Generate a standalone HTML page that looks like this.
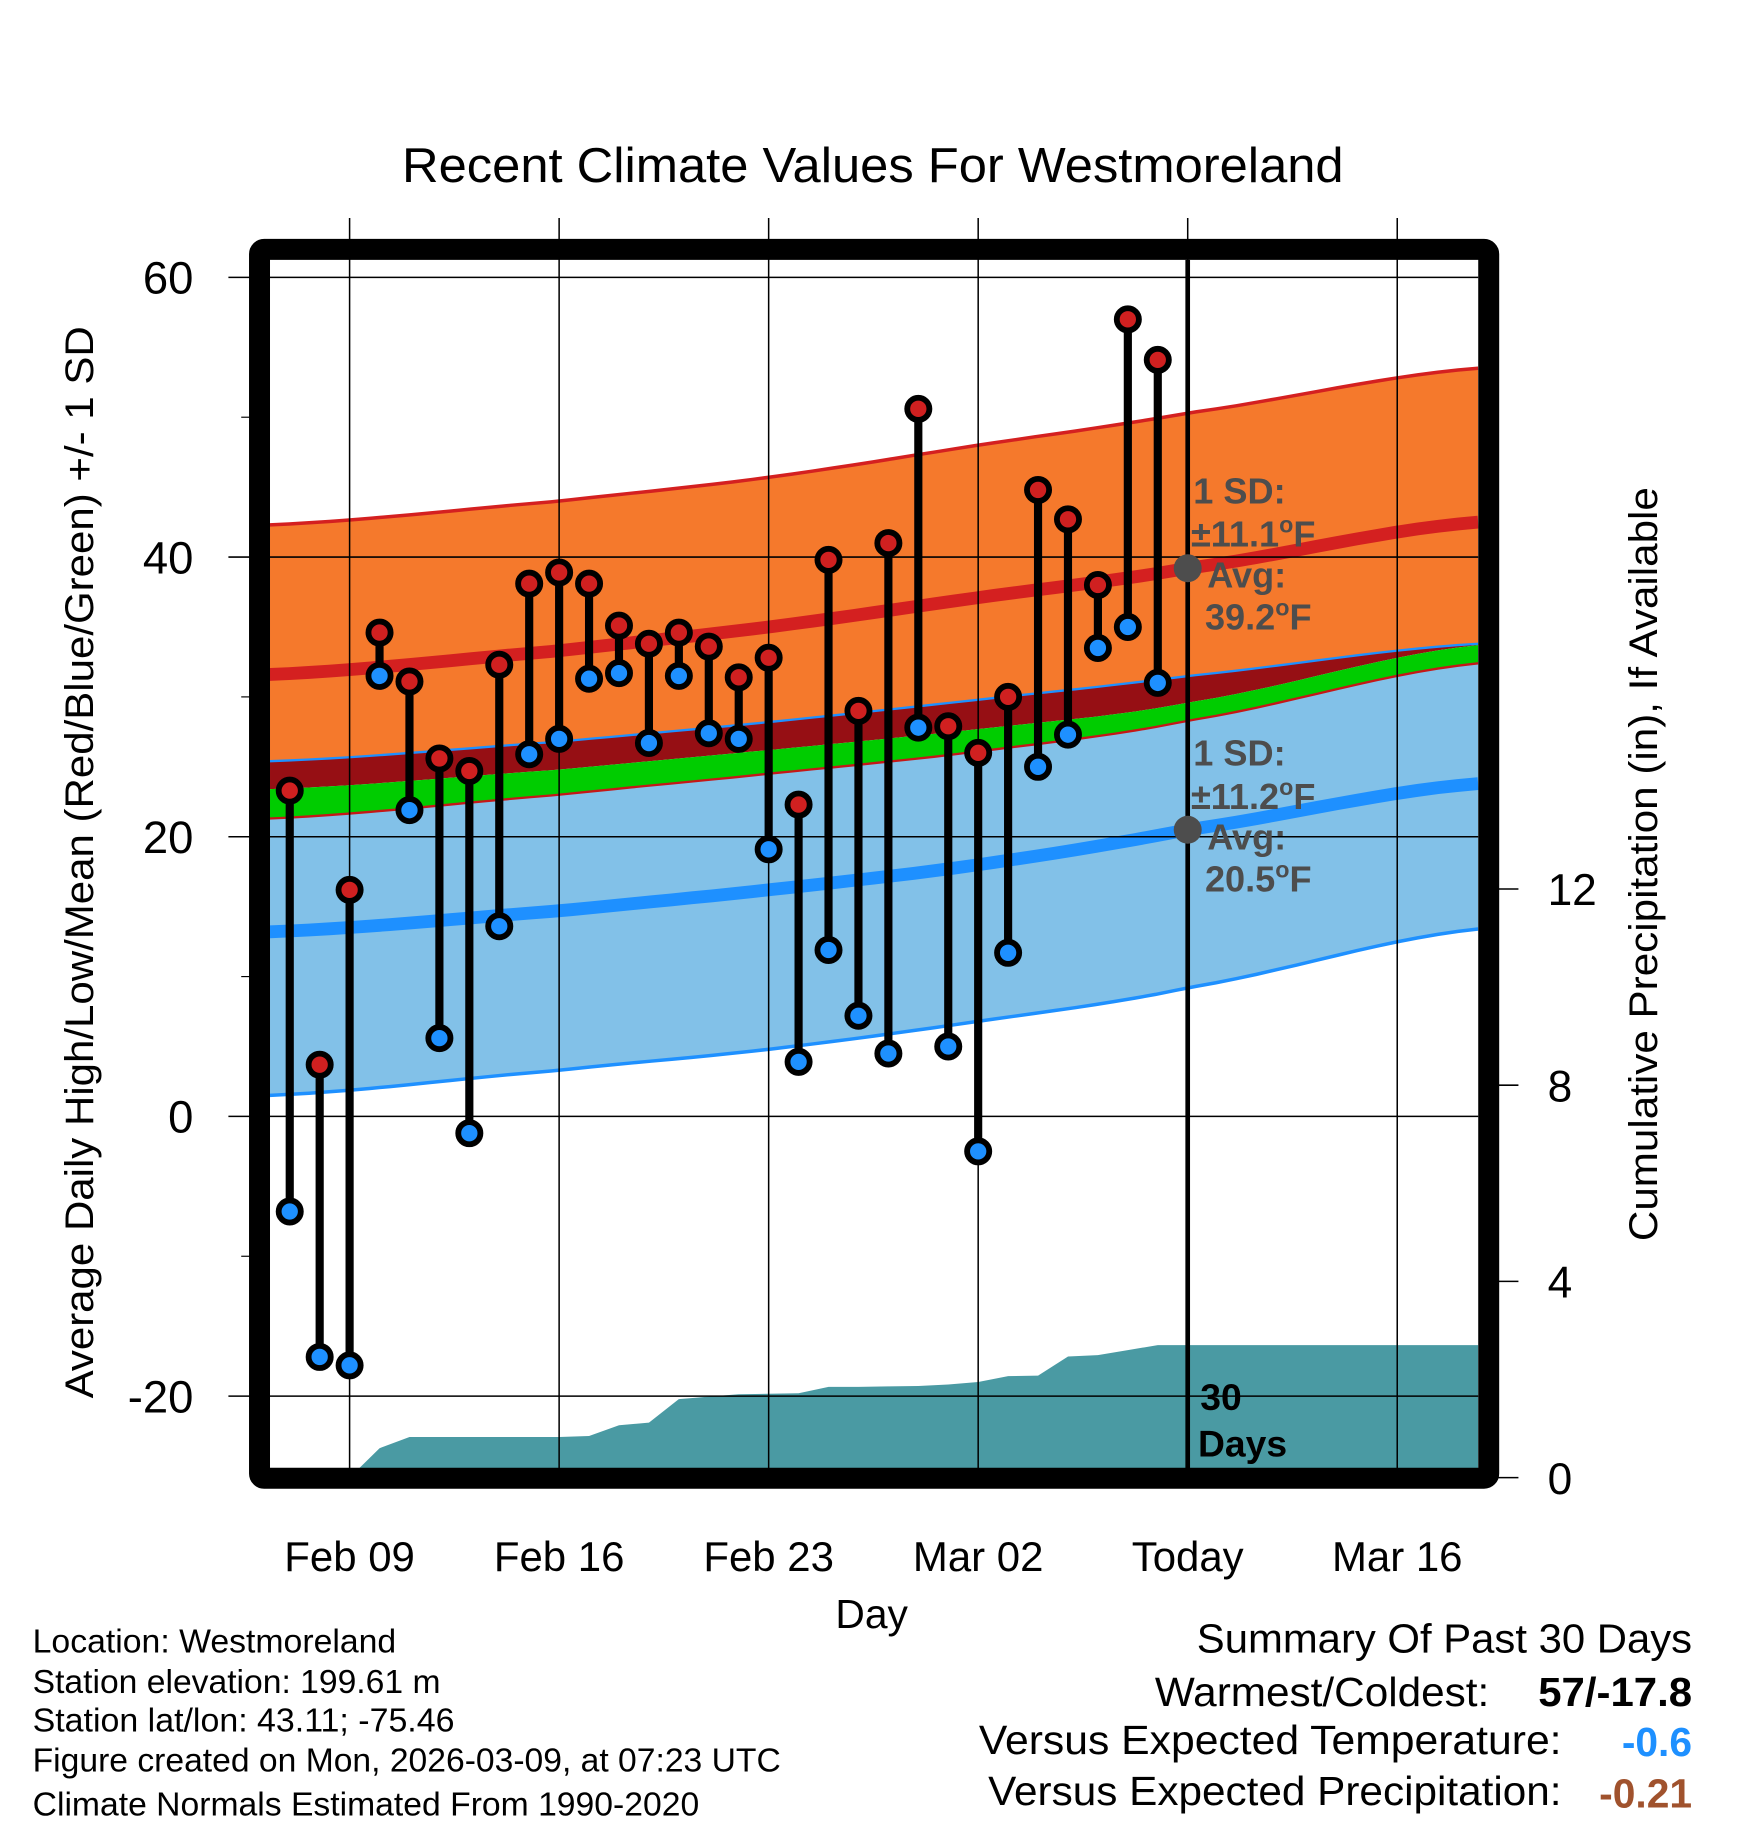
<!DOCTYPE html>
<html><head><meta charset="utf-8"><style>
html,body{margin:0;padding:0;background:#fff;}
svg{display:block;font-family:"Liberation Sans",Arial,sans-serif;}
</style></head><body>
<svg id="chart" width="1748" height="1828" viewBox="0 0 1500 1568.6" xmlns="http://www.w3.org/2000/svg">
<text x="345" y="156" font-size="42" textLength="808" lengthAdjust="spacingAndGlyphs">Recent Climate Values For Westmoreland</text>
<g id="plot"></g>
<text transform="translate(80,1200) rotate(-90)" font-size="34" textLength="920" lengthAdjust="spacingAndGlyphs">Average Daily High/Low/Mean (Red/Blue/Green) +/- 1 SD</text>
<text transform="translate(1422,1065) rotate(-90)" font-size="34" textLength="647" lengthAdjust="spacingAndGlyphs">Cumulative Precipitation (in), If Available</text>
<text x="748" y="1397" font-size="35" text-anchor="middle">Day</text>
<g font-size="28.5">
<text x="28" y="1418" textLength="312" lengthAdjust="spacingAndGlyphs">Location: Westmoreland</text>
<text x="28" y="1453" textLength="350" lengthAdjust="spacingAndGlyphs">Station elevation: 199.61 m</text>
<text x="28" y="1486" textLength="362" lengthAdjust="spacingAndGlyphs">Station lat/lon: 43.11; -75.46</text>
<text x="28" y="1520" textLength="642" lengthAdjust="spacingAndGlyphs">Figure created on Mon, 2026-03-09, at 07:23 UTC</text>
<text x="28" y="1558" textLength="572" lengthAdjust="spacingAndGlyphs">Climate Normals Estimated From 1990-2020</text>
</g>
<g font-size="35">
<text x="1027" y="1418" textLength="425" lengthAdjust="spacingAndGlyphs">Summary Of Past 30 Days</text>
<text x="991" y="1464" textLength="287" lengthAdjust="spacingAndGlyphs">Warmest/Coldest:</text>
<text x="1320" y="1464" font-weight="bold" textLength="132" lengthAdjust="spacingAndGlyphs">57/-17.8</text>
<text x="840" y="1505" textLength="500" lengthAdjust="spacingAndGlyphs">Versus Expected Temperature:</text>
<text x="1452" y="1507" text-anchor="end" font-weight="bold" fill="#1e90ff">-0.6</text>
<text x="848" y="1549" textLength="492" lengthAdjust="spacingAndGlyphs">Versus Expected Precipitation:</text>
<text x="1452" y="1551" text-anchor="end" font-weight="bold" fill="#a0522d">-0.21</text>
</g>
</svg>
<script>
const days=[-2,-1,0,1,2,3,4,5,6,7,8,9,10,11,12,13,14,15,16,17,18,19,20,21,22,23,24,25,26,27];
const highs=[23.3,3.7,16.2,34.6,31.1,25.6,24.7,32.3,38.1,38.9,38.1,35.1,33.8,34.6,33.6,31.4,32.8,22.3,39.8,29.0,41.0,50.6,27.9,26.0,30.0,44.8,42.7,38.0,57.0,54.1];
const lows=[-6.8,-17.2,-17.8,31.5,21.9,5.6,-1.2,13.6,25.9,27.0,31.3,31.7,26.7,31.5,27.4,27.0,19.1,3.9,11.9,7.2,4.5,27.8,5.0,-2.5,11.7,25.0,27.3,33.5,35.0,31.0];
const precip=[0,0,0,0.6,0.83,0.83,0.83,0.83,0.83,0.83,0.85,1.07,1.12,1.6,1.65,1.7,1.71,1.72,1.85,1.85,1.86,1.87,1.9,1.95,2.07,2.08,2.47,2.5,2.6,2.7];
const normDays=[-2.7,7,14,21,28,37.7];
const hiUpper=[42.3,44.0,45.7,48.0,50.3,53.5];
const hiMean=[31.6,33.3,35.0,37.1,39.2,42.5];
const loUpper=[25.4,26.8,28.2,29.8,31.5,33.8];
const greenTop=[23.4,24.8,26.2,27.7,29.6,33.7];
const hiLower=[21.3,23.0,24.5,26.1,28.3,32.4];
const loMean=[13.2,14.7,16.2,18.0,20.5,23.8];
const loLower=[1.5,3.3,4.8,6.8,9.2,13.4];
const yTicks=[60,40,20,0,-20];
const yMinor=[50,30,10,-10];
const pTicks=[0,4,8,12];
const xTickDays=[0,7,14,21,28,35];
const xTickLabels=["Feb 09","Feb 16","Feb 23","Mar 02","Today","Mar 16"];
const todayDay=28;

const X=d=>300+d*(179.8/7);
const Y=v=>958-12*v;
const P=p=>1268-42.1*p;
const L=231.7,R=1268.5,T=223,B=1260;
const NS="http://www.w3.org/2000/svg";
const g=document.getElementById('plot');
function mk(tag,attrs,parent){const e=document.createElementNS(NS,tag);for(const k in attrs)e.setAttribute(k,attrs[k]);(parent||g).appendChild(e);return e;}
function curvePts(arr){const pts=[];for(let i=0;i<=60;i++){const d=normDays[0]+(normDays[normDays.length-1]-normDays[0])*i/60;let j=0;while(j<normDays.length-2&&d>normDays[j+1])j++;
const p0=arr[Math.max(j-1,0)],p1=arr[j],p2=arr[j+1],p3=arr[Math.min(j+2,arr.length-1)];const t=(d-normDays[j])/(normDays[j+1]-normDays[j]);
const v=0.5*((2*p1)+(-p0+p2)*t+(2*p0-5*p1+4*p2-p3)*t*t+(-p0+3*p1-3*p2+p3)*t*t*t);pts.push([X(d),Y(v)]);}return pts;}
function band(top,bot,fill,name){const a=curvePts(top),b=curvePts(bot).reverse();const e=mk('path',{d:'M'+a.concat(b).map(p=>p[0].toFixed(1)+','+p[1].toFixed(1)).join('L')+'Z',fill:fill});

}
function line(arr,stroke,w,name){const e=mk('path',{d:'M'+curvePts(arr).map(p=>p[0].toFixed(1)+','+p[1].toFixed(1)).join('L'),fill:'none',stroke:stroke,'stroke-width':w});

}
const clip=mk('clipPath',{id:'c'});mk('rect',{x:L,y:T,width:R-L,height:B-T},clip);
const inner=mk('g',{'clip-path':'url(#c)'});
function bandIn(top,bot,fill,name){band(top,bot,fill,name);inner.appendChild(g.lastChild);}
function lineIn(arr,s,w,name){line(arr,s,w,name);inner.appendChild(g.lastChild);}
bandIn(hiUpper,loUpper,'#f5792c','high-sd-band');
bandIn(loUpper,greenTop,'#960f14','overlap-band');
bandIn(greenTop,hiLower,'#00cc00','mean-band');
bandIn(hiLower,loLower,'#82c1e8','low-sd-band');
lineIn(hiUpper,'#d42020',3,'high-upper-line');
lineIn(loUpper,'#1e90ff',2,'low-upper-line');
lineIn(hiLower,'#c41818',2,'high-lower-line');
lineIn(loLower,'#1e90ff',3,'low-lower-line');
lineIn(hiMean,'#d42020',11,'mean-high-line');
lineIn(loMean,'#1e90ff',11,'mean-low-line');
let pd='M'+X(days[0])+','+B;
days.forEach((d,i)=>{pd+='L'+X(d).toFixed(1)+','+P(precip[i]).toFixed(1);});
pd+='L'+R+','+P(precip[precip.length-1]).toFixed(1)+'L'+R+','+B+'Z';
const pa=mk('path',{d:pd,fill:'#4a9aa3'},inner);


yTicks.forEach(v=>{const e=mk('line',{x1:196,x2:R,y1:Y(v),y2:Y(v),stroke:'#000','stroke-width':1.3});


const t=mk('text',{x:166,y:Y(v)+14,'font-size':39,'text-anchor':'end'});t.textContent=v;

});
yMinor.forEach(v=>{const e=mk('line',{x1:207,x2:215,y1:Y(v),y2:Y(v),stroke:'#000','stroke-width':1});

});
xTickDays.forEach((d,i)=>{const e=mk('line',{x1:X(d),x2:X(d),y1:187,y2:B,stroke:'#000','stroke-width':1.3});


const t=mk('text',{x:X(d),y:1348,'font-size':36,'text-anchor':'middle'});t.textContent=xTickLabels[i];

});
pTicks.forEach(p=>{const e=mk('line',{x1:1278,x2:1303,y1:P(p),y2:P(p),stroke:'#000','stroke-width':1.3});


const t=mk('text',{x:1328,y:P(p)+14,'font-size':38,'text-anchor':'start'});t.textContent=p;

});
const tl=mk('line',{x1:X(todayDay),x2:X(todayDay),y1:T,y2:B,stroke:'#000','stroke-width':4});


days.forEach((d,i)=>{const s=mk('line',{x1:X(d),x2:X(d),y1:Y(highs[i]),y2:Y(lows[i]),stroke:'#000','stroke-width':7});

});
days.forEach((d,i)=>{const h=mk('circle',{cx:X(d),cy:Y(highs[i]),r:9.5,fill:'#d02020',stroke:'#000','stroke-width':5});


const l=mk('circle',{cx:X(d),cy:Y(lows[i]),r:9.5,fill:'#1e90ff',stroke:'#000','stroke-width':5});

});
const ah=mk('circle',{cx:X(todayDay),cy:Y(39.2),r:12,fill:'#4d4d4d'});


const al=mk('circle',{cx:X(todayDay),cy:Y(20.5),r:12,fill:'#4d4d4d'});


function ann(x,y,txt,name){const t=mk('text',{x:x,y:y,'font-size':31,'font-weight':'bold',fill:'#4d4d4d'});t.innerHTML=txt;

}
ann(1024,432,'1 SD:','high-sd-label');
ann(1022,469,'±11.1<tspan font-size="20" dy="-12">o</tspan><tspan dy="12">F</tspan>','high-sd-value');
ann(1036,504,'Avg:','high-avg-label');
ann(1034,540,'39.2<tspan font-size="20" dy="-12">o</tspan><tspan dy="12">F</tspan>','high-avg-value');
ann(1024,657,'1 SD:','low-sd-label');
ann(1022,694,'±11.2<tspan font-size="20" dy="-12">o</tspan><tspan dy="12">F</tspan>','low-sd-value');
ann(1036,729,'Avg:','low-avg-label');
ann(1034,765,'20.5<tspan font-size="20" dy="-12">o</tspan><tspan dy="12">F</tspan>','low-avg-value');
const d1=mk('text',{x:1030,y:1210,'font-size':32,'font-weight':'bold'});d1.textContent='30';


const d2=mk('text',{x:1028,y:1250,'font-size':32,'font-weight':'bold'});d2.textContent='Days';


const fr=mk('rect',{x:222.7,y:214,width:1277.5-222.7,height:1268.5-214,fill:'none',stroke:'#000','stroke-width':18,rx:4});


</script>
</body></html>
